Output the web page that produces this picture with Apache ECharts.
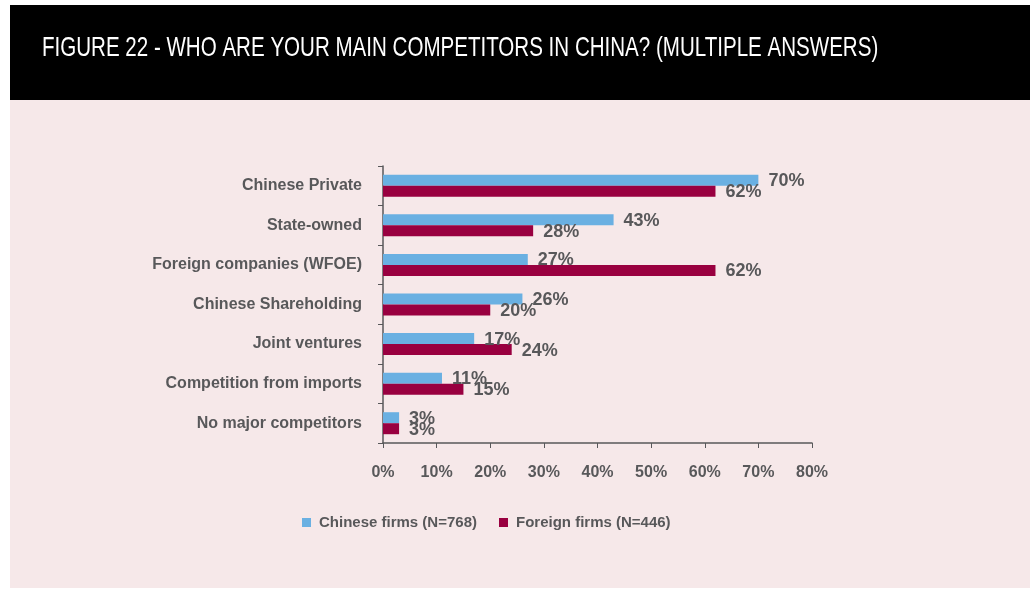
<!DOCTYPE html>
<html><head><meta charset="utf-8">
<script src="https://cdn.jsdelivr.net/npm/echarts@6/dist/echarts.min.js"></script>
<style>html,body{margin:0;padding:0;background:#fff;}#c{width:1030px;height:591px;}</style>
</head><body><div id="c"></div>
<script>
const title = 'FIGURE 22 - WHO ARE YOUR MAIN COMPETITORS IN CHINA? (MULTIPLE ANSWERS)';
const categories = ['Chinese Private','State-owned','Foreign companies (WFOE)','Chinese Shareholding','Joint ventures','Competition from imports','No major competitors'];
const seriesNames = ['Chinese firms (N=768)','Foreign firms (N=446)'];
const chineseFirms = [70,43,27,26,17,11,3];
const foreignFirms = [62,28,62,20,24,15,3];
const xTicks = [0,10,20,30,40,50,60,70,80];

const FONT = '"Liberation Sans",Arial,sans-serif';
const GREY = '#58585a';
const chart = echarts.init(document.getElementById('c'));
chart.setOption({
  animation:false,
  backgroundColor:'#fff',
  graphic:[
    {type:'rect',z:-10,shape:{x:10,y:5,width:1020,height:95},style:{fill:'#000'}},
    {type:'rect',z:-10,shape:{x:10,y:100,width:1020,height:488},style:{fill:'#f6e8e9'}},
    {type:'text',x:42,y:48,scaleX:0.734,originX:0,originY:0,
     style:{text:title,fill:'#fff',font:'28px '+FONT,textVerticalAlign:'middle',verticalAlign:'middle'}}
  ],
  grid:{left:383,right:218,top:166,bottom:148,containLabel:false},
  legend:{
    data:seriesNames,bottom:56,left:297,itemWidth:9,itemHeight:9,itemGap:22,icon:'rect',
    textStyle:{color:GREY,fontFamily:FONT,fontWeight:'bold',fontSize:15,padding:[0,0,0,3]}
  },
  xAxis:{
    type:'value',min:xTicks[0],max:xTicks[xTicks.length-1],interval:10,
    axisLine:{show:true,lineStyle:{color:GREY,width:1.5}},
    axisTick:{show:true,length:5,lineStyle:{color:GREY}},
    splitLine:{show:false},
    axisLabel:{formatter:'{value}%',margin:22,color:GREY,fontFamily:FONT,fontWeight:'bold',fontSize:16}
  },
  yAxis:{
    type:'category',data:categories,inverse:true,
    axisLine:{show:true,lineStyle:{color:GREY,width:1.5}},
    axisTick:{show:true,length:5,lineStyle:{color:GREY}},
    axisLabel:{margin:21,color:GREY,fontFamily:FONT,fontWeight:'bold',fontSize:16}
  },
  series:[
    {name:seriesNames[0],type:'bar',data:chineseFirms,barWidth:11,barGap:'0%',
     itemStyle:{color:'#6ab0e2'},
     label:{show:true,position:'right',distance:10,offset:[0,1],formatter:'{c}%',color:GREY,fontFamily:FONT,fontWeight:'bold',fontSize:18}},
    {name:seriesNames[1],type:'bar',data:foreignFirms,barWidth:11,barGap:'0%',
     itemStyle:{color:'#990040'},
     label:{show:true,position:'right',distance:10,offset:[0,1],formatter:'{c}%',color:GREY,fontFamily:FONT,fontWeight:'bold',fontSize:18}}
  ]
});
</script></body></html>
